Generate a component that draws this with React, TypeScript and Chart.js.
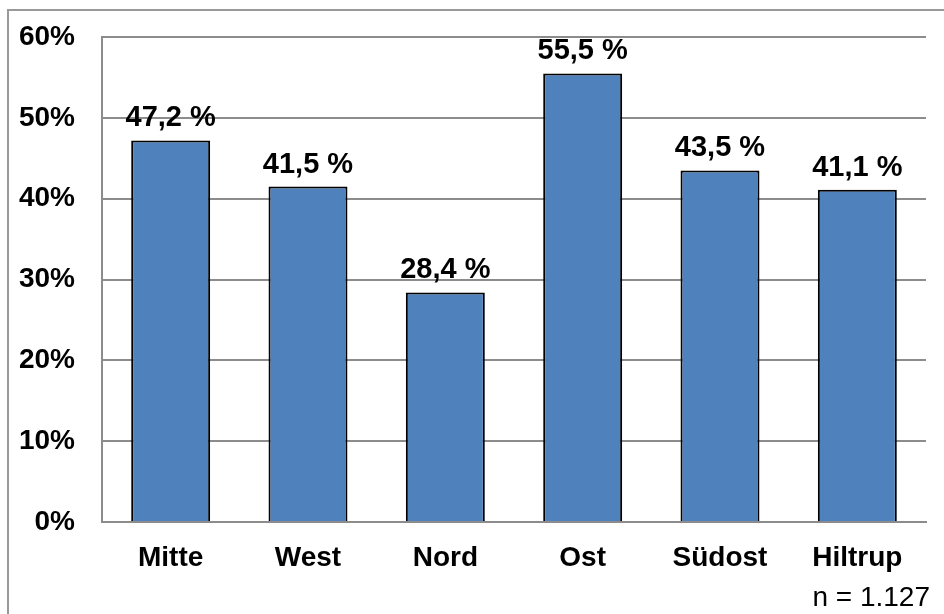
import React, { useEffect, useRef } from "react";
import { Chart, registerables } from "chart.js";

Chart.register(...registerables);

const categories = ["Mitte", "West", "Nord", "Ost", "Südost", "Hiltrup"];
const values = [47.2, 41.5, 28.4, 55.5, 43.5, 41.1];
const yTicks = [0, 10, 20, 30, 40, 50, 60];
const sampleNote = "n = 1.127";

const FONT = "'Liberation Sans', Arial, sans-serif";

const valueLabels = {
  id: "valueLabels",
  afterDatasetsDraw(chart: any) {
    const ctx = chart.ctx;
    const meta = chart.getDatasetMeta(0);
    ctx.save();
    ctx.font = `bold 29px ${FONT}`;
    ctx.fillStyle = "#000";
    ctx.textAlign = "center";
    ctx.textBaseline = "alphabetic";
    meta.data.forEach((bar: any, i: number) => {
      const txt = values[i].toFixed(1).replace(".", ",") + " %";
      ctx.fillText(txt, bar.x, bar.y - 14);
    });
    ctx.restore();
  },
};

export default function App() {
  const ref = useRef<HTMLCanvasElement>(null);
  useEffect(() => {
    if (!ref.current) return;
    const chart = new Chart(ref.current, {
      type: "bar",
      data: {
        labels: categories,
        datasets: [
          {
            data: values,
            backgroundColor: "#4F81BD",
            borderColor: "#000000",
            borderWidth: 2,
            barPercentage: 0.575,
            categoryPercentage: 1,
          },
        ],
      },
      options: {
        animation: false,
        responsive: false,
        layout: { padding: { left: 0, top: 37, right: 18, bottom: 0 } },
        plugins: { legend: { display: false }, tooltip: { enabled: false } },
        scales: {
          x: {
            grid: { display: false, drawTicks: false },
            border: { display: true, color: "#8c8c8c", width: 2 },
            ticks: {
              color: "#000",
              padding: 19,
              font: { family: FONT, size: 28, weight: "bold" },
            },
            afterFit(scale: any) {
              scale.height = 92;
              scale.paddingLeft = 0;
              scale.paddingRight = 0;
            },
          },
          y: {
            min: yTicks[0],
            max: yTicks[yTicks.length - 1],
            afterBuildTicks(scale: any) {
              scale.ticks = yTicks.map((v) => ({ value: v }));
            },
            grid: { color: "#8c8c8c", lineWidth: 2, drawTicks: false },
            border: { display: true, color: "#8c8c8c", width: 2 },
            ticks: {
              color: "#000",
              padding: 27,
              font: { family: FONT, size: 28, weight: "bold" },
              callback: (v: any) => `${v}%`,
            },
            afterFit(scale: any) {
              scale.width = 102;
              scale.paddingTop = 0;
              scale.paddingBottom = 0;
            },
          },
        },
      },
      plugins: [valueLabels],
    });
    return () => chart.destroy();
  }, []);

  return (
    <div style={{ position: "fixed", left: 0, top: 0, width: 944, height: 614, background: "#fff", overflow: "hidden" }}>
      <div
        style={{
          position: "absolute",
          left: 7,
          top: 9,
          width: 960,
          height: 640,
          borderLeft: "2px solid #999",
          borderTop: "2px solid #999",
        }}
      />
      <canvas ref={ref} width={944} height={614} style={{ position: "absolute", left: 0, top: 0 }} />
      <div
        style={{
          position: "absolute",
          right: 14,
          top: 580,
          fontFamily: FONT,
          fontSize: 28,
          lineHeight: "34px",
          color: "#000",
        }}
      >
        {sampleNote}
      </div>
    </div>
  );
}
